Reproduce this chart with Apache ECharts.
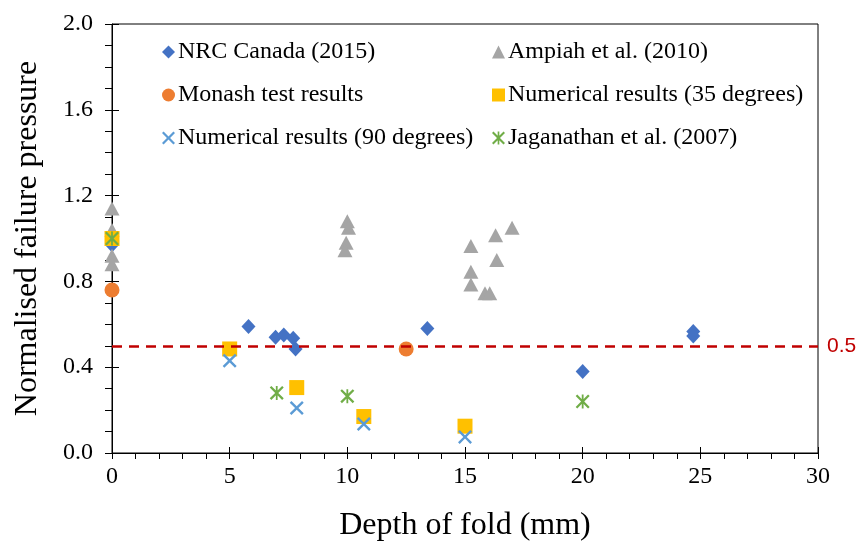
<!DOCTYPE html>
<html>
<head>
<meta charset="utf-8">
<script src="https://cdn.jsdelivr.net/npm/echarts@6/dist/echarts.min.js"></script>
<style>html,body{margin:0;padding:0;background:#fff;}#c{width:860px;height:547px;}</style>
</head>
<body>
<div id="c"></div>
<script>
// ---- data ----
var nrcCanada = [[0, 0.97], [5.8, 0.59], [6.95, 0.54], [7.3, 0.55], [7.7, 0.535], [7.8, 0.485], [13.4, 0.58], [20, 0.38], [24.7, 0.567], [24.7, 0.545]];
var ampiah = [[0, 1.14], [0, 1.04], [0, 0.92], [0, 0.88], [10.0, 1.08], [10.05, 1.05], [9.95, 0.98], [9.9, 0.945], [15.25, 0.965], [16.3, 1.015], [17.0, 1.05], [16.35, 0.9], [15.25, 0.845], [15.25, 0.785], [15.85, 0.745], [16.05, 0.745]];
var monash = [[0, 0.76], [12.5, 0.485]];
var num35 = [[0, 1.0], [5, 0.485], [7.85, 0.305], [10.7, 0.17], [15, 0.125]];
var num90 = [[5, 0.43], [7.85, 0.21], [10.7, 0.135], [15, 0.075]];
var jaganathan = [[0, 1.0], [7, 0.28], [10, 0.265], [20, 0.24]];
var thresholdValue = 0.5;
var seriesNames = ['NRC Canada (2015)', 'Ampiah et al. (2010)', 'Monash test results', 'Numerical results (35 degrees)', 'Numerical results (90 degrees)', 'Jaganathan et al. (2007)'];
var xTitle = 'Depth of fold (mm)';
var yTitle = 'Normalised failure pressure';

var SERIF = "'Liberation Serif', 'Times New Roman', serif";
var crossPath = 'path://M0,1.7L1.7,0L7,5.3L12.3,0L14,1.7L8.7,7L14,12.3L12.3,14L7,8.7L1.7,14L0,12.3L5.3,7Z';
var starPath = 'path://M0,1.6L1.6,0L7,5.4L12.4,0L14,1.6L8.6,7L14,12.4L12.4,14L7,8.6L1.6,14L0,12.4L5.4,7Z M6.1,0L7.9,0L7.9,14L6.1,14Z';

var chart = echarts.init(document.getElementById('c'));
var axisColor = '#000';
function xAxisBase(extra) {
  return Object.assign({
    type: 'value', min: 0, max: 30, interval: 5, position: 'bottom', gridIndex: 0,
    splitLine: {show: false}
  }, extra);
}
function yAxisBase(extra) {
  return Object.assign({
    type: 'value', min: 0, max: 2, interval: 0.4, position: 'left', gridIndex: 0,
    splitLine: {show: false}
  }, extra);
}
var option = {
  animation: false,
  backgroundColor: '#fff',
  grid: {left: 112, right: 42, top: 24, bottom: 89, show: true, borderColor: '#000', borderWidth: 1, containLabel: false},
  legend: [
    {
      orient: 'vertical', left: 157, top: 35, itemWidth: 13, itemHeight: 13, itemGap: 19,
      data: [seriesNames[0], seriesNames[2], seriesNames[4]],
      textStyle: {fontFamily: SERIF, fontSize: 24, color: '#000', lineHeight: 24, padding: [0, 0, 0, -2]}
    },
    {
      orient: 'vertical', left: 487, top: 35, itemWidth: 13, itemHeight: 13, itemGap: 19,
      data: [seriesNames[1], seriesNames[3], seriesNames[5]],
      textStyle: {fontFamily: SERIF, fontSize: 24, color: '#000', lineHeight: 24, padding: [0, 0, 0, -2]}
    }
  ],
  xAxis: [
    xAxisBase({
      name: xTitle, nameLocation: 'middle', nameGap: 57,
      nameTextStyle: {fontFamily: SERIF, fontSize: 32, color: '#000'},
      axisLine: {show: true, lineStyle: {color: axisColor, width: 1}},
      axisTick: {show: true, inside: false, length: 6, lineStyle: {color: axisColor}},
      minorTick: {show: true, splitNumber: 5, length: 6, lineStyle: {color: axisColor}},
      axisLabel: {fontFamily: SERIF, fontSize: 24, color: '#000', margin: 12}
    }),
    xAxisBase({
      axisLine: {show: false},
      axisTick: {show: true, inside: true, length: 6, lineStyle: {color: axisColor}},
      axisLabel: {show: false}
    })
  ],
  yAxis: [
    yAxisBase({
      name: yTitle, nameLocation: 'middle', nameGap: 68,
      nameTextStyle: {fontFamily: SERIF, fontSize: 32, color: '#000'},
      axisLine: {show: true, lineStyle: {color: axisColor, width: 1}},
      axisTick: {show: true, inside: false, length: 7, lineStyle: {color: axisColor}},
      minorTick: {show: true, splitNumber: 4, length: 7, lineStyle: {color: axisColor}},
      axisLabel: {fontFamily: SERIF, fontSize: 24, color: '#000', margin: 19, formatter: function (v) { return v.toFixed(1); }}
    }),
    yAxisBase({
      axisLine: {show: false},
      axisTick: {show: true, inside: true, length: 7, lineStyle: {color: axisColor}},
      axisLabel: {show: false}
    })
  ],
  series: [
    {name: seriesNames[0], type: 'scatter', data: nrcCanada, symbol: 'diamond', symbolSize: [14, 15], itemStyle: {color: '#4472C4', opacity: 1}},
    {name: seriesNames[1], type: 'scatter', data: ampiah, symbol: 'triangle', symbolSize: [15, 14], itemStyle: {color: '#A5A5A5', opacity: 1}},
    {name: seriesNames[2], type: 'scatter', data: monash, symbol: 'circle', symbolSize: 15, itemStyle: {color: '#ED7D31', opacity: 1}},
    {name: seriesNames[3], type: 'scatter', data: num35, symbol: 'rect', symbolSize: 15, itemStyle: {color: '#FFC000', opacity: 1}},
    {name: seriesNames[4], type: 'scatter', data: num90, symbol: crossPath, symbolSize: 14, itemStyle: {color: '#5B9BD5', opacity: 1}},
    {name: seriesNames[5], type: 'scatter', data: jaganathan, symbol: starPath, symbolSize: 14, itemStyle: {color: '#70AD47', opacity: 1},
      markLine: {
        silent: true, symbol: ['none', 'none'], animation: false,
        lineStyle: {color: '#C00000', width: 2.6, type: [10, 7], opacity: 1},
        label: {show: true, position: 'end', distance: 9, formatter: '0.5', color: '#C00000', fontSize: 21, fontFamily: "'Liberation Sans', Arial, sans-serif"},
        emphasis: {disabled: true},
        data: [{yAxis: thresholdValue}]
      }
    }
  ]
};
chart.setOption(option);
</script>
</body>
</html>
